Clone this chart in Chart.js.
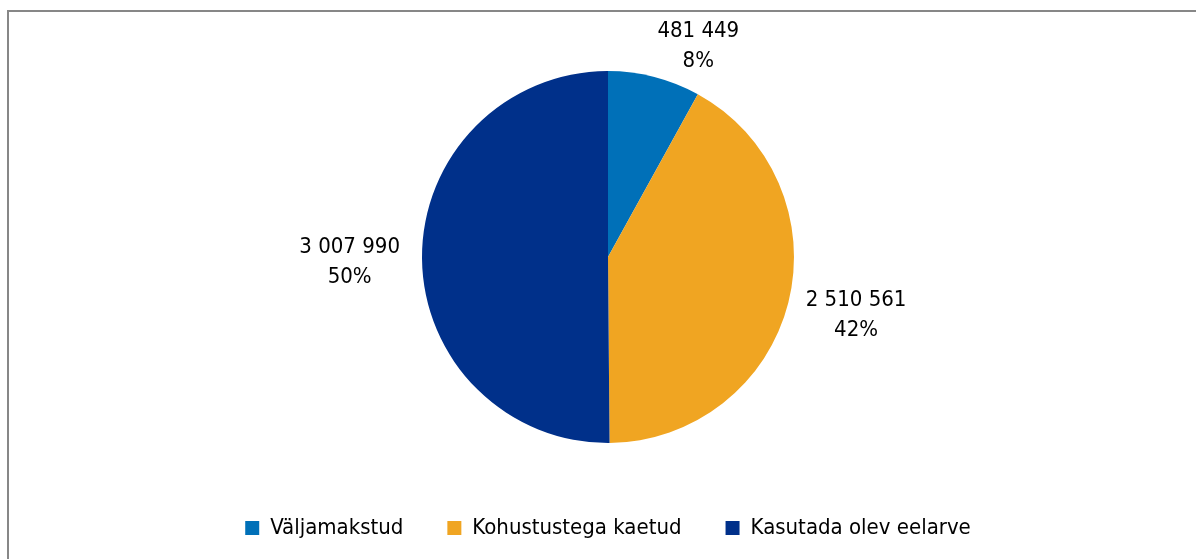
<!DOCTYPE html>
<html>
<head>
<meta charset="utf-8">
<script src="https://cdn.jsdelivr.net/npm/chart.js@4"></script>
<style>
  html, body { margin: 0; padding: 0; background: #fff; }
  #raam {
    position: absolute; left: 7px; top: 10px; width: 1200px; height: 560px;
    border-left: 2px solid #878787; border-top: 2px solid #878787;
    box-sizing: border-box;
  }
  #wrap { position: absolute; left: 0; top: 0; width: 1196px; height: 559px; }
</style>
</head>
<body>
<div id="raam"></div>
<div id="wrap"><canvas id="myChart" width="1196" height="559"></canvas></div>
<script>
const kategooriad = ['Väljamakstud', 'Kohustustega kaetud', 'Kasutada olev eelarve'];
const summad = [481449, 2510561, 3007990];
const protsendid = ['8%', '42%', '50%'];
const varvid = ['#0070b8', '#f0a522', '#00308a'];

const fondiNimi = '"Liberation Sans Narrow", "DejaVu Sans Condensed", Roboto, sans-serif';

// numbrid tuhandete kaupa tühikuga
const vorminda = n => String(n).replace(/\B(?=(\d{3})+(?!\d))/g, ' ');

const siltidePlugin = {
  id: 'sildid',
  afterDatasetsDraw(chart) {
    const ctx = chart.ctx;
    const meta = chart.getDatasetMeta(0);
    ctx.save();
    ctx.font = '22px ' + fondiNimi;
    ctx.fillStyle = '#000';
    ctx.textAlign = 'center';
    ctx.textBaseline = 'middle';
    meta.data.forEach((arc, i) => {
      const p = arc.getProps(['x', 'y', 'startAngle', 'endAngle', 'outerRadius'], true);
      const mid = (p.startAngle + p.endAngle) / 2;
      const ux = Math.cos(mid), uy = Math.sin(mid);
      const rida1 = vorminda(summad[i]);
      const rida2 = protsendid[i];
      const w = Math.max(ctx.measureText(rida1).width, ctx.measureText(rida2).width);
      const h = 56;
      const px = p.x + ux * (p.outerRadius + 8);
      const py = p.y + uy * (p.outerRadius + 8);
      const sx = Math.abs(ux) < 0.05 ? 0 : Math.sign(ux);
      const cx = px + sx * w / 2 + 12 * ux - 2;
      const cy = py + uy * h / 2 + 4;
      ctx.fillText(rida1, cx, cy - 15);
      ctx.fillText(rida2, cx, cy + 15);
    });
    ctx.restore();
  }
};

let ctx = document.getElementById('myChart').getContext('2d');
let myChart = new Chart(ctx, {
  type: 'pie',
  data: {
    labels: kategooriad,
    datasets: [{
      data: summad,
      backgroundColor: varvid,
      borderWidth: 0,
      radius: 186
    }]
  },
  options: {
    responsive: false,
    animation: false,
    layout: { padding: { top: 41, bottom: 10, left: 20, right: 0 } },
    plugins: {
      tooltip: { enabled: false },
      legend: {
        position: 'bottom',
        labels: {
          boxWidth: 14,
          boxHeight: 14,
          padding: 44,
          color: '#000',
          font: { family: fondiNimi, size: 22 }
        }
      }
    }
  },
  plugins: [siltidePlugin]
});
</script>
</body>
</html>
